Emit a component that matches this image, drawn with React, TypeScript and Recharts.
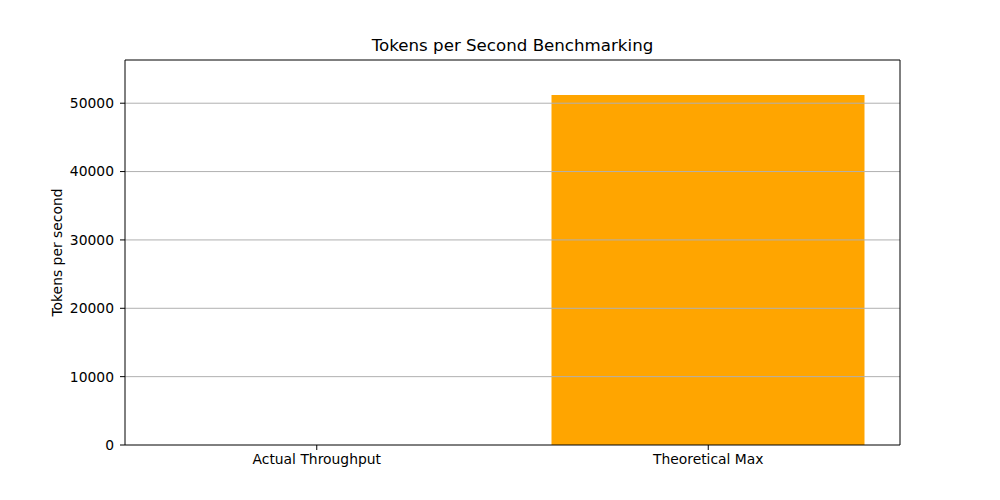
import React from 'react';
import { BarChart, Bar, XAxis, YAxis, ReferenceLine } from 'recharts';

const categories = ['Actual Throughput', 'Theoretical Max'];
const tokensPerSecond = [5, 51200];
const yTicks = [0, 10000, 20000, 30000, 40000, 50000];
const gridTicks = [10000, 20000, 30000, 40000, 50000];
const title = 'Tokens per Second Benchmarking';
const yLabel = 'Tokens per second';

const data = categories.map((name, i) => ({ name, value: tokensPerSecond[i] }));

const FONT = '"DejaVu Sans", sans-serif';
const FS = 13.89;

export default function App() {
  return (
    <div style={{ position: 'absolute', left: 0, top: 0, width: 1000, height: 500, background: '#fff' }}>
      <div
        style={{
          position: 'absolute',
          left: 125,
          width: 775,
          top: 36,
          textAlign: 'center',
          fontFamily: FONT,
          fontSize: 16.67,
          color: '#000',
          lineHeight: '20px',
        }}
      >
        {title}
      </div>
      <BarChart
        width={1000}
        height={500}
        data={data}
        margin={{ top: 59, right: 99, bottom: 0, left: 0 }}
        barCategoryGap={0}
      >
        <XAxis
          dataKey="name"
          xAxisId="bottom"
          tickSize={5}
          tickMargin={4}
          stroke="#000"
          padding={{ left: -4, right: -4 }}
          tick={{ fill: '#000', fontFamily: FONT, fontSize: FS }}
          height={55}
        />
        <XAxis
          dataKey="name"
          xAxisId="top"
          orientation="top"
          tick={false}
          tickLine={false}
          stroke="#000"
          height={1}
        />
        <YAxis
          yAxisId="left"
          domain={[0, 56320]}
          ticks={yTicks}
          allowDataOverflow
          tickSize={5}
          tickMargin={6}
          stroke="#000"
          width={125}
          tick={{ fill: '#000', fontFamily: FONT, fontSize: FS }}
          label={({ viewBox }: any) => (
            <text
              x={57}
              y={viewBox.y + viewBox.height / 2}
              transform={`rotate(-90, 57, ${viewBox.y + viewBox.height / 2})`}
              textAnchor="middle"
              dominantBaseline="central"
              fontFamily={FONT}
              fontSize={FS}
              fill="#000"
            >
              {yLabel}
            </text>
          )}
        />
        <YAxis
          yAxisId="right"
          orientation="right"
          domain={[0, 56320]}
          tick={false}
          tickLine={false}
          stroke="#000"
          width={1}
        />
        <Bar
          dataKey="value"
          xAxisId="bottom"
          yAxisId="left"
          fill="#ffa500"
          barSize={313}
          isAnimationActive={false}
        />
        {gridTicks.map((t) => (
          <ReferenceLine
            key={t}
            y={t}
            xAxisId="bottom"
            yAxisId="left"
            stroke="#b0b0b0"
            strokeWidth={1}
          />
        ))}
      </BarChart>
    </div>
  );
}
